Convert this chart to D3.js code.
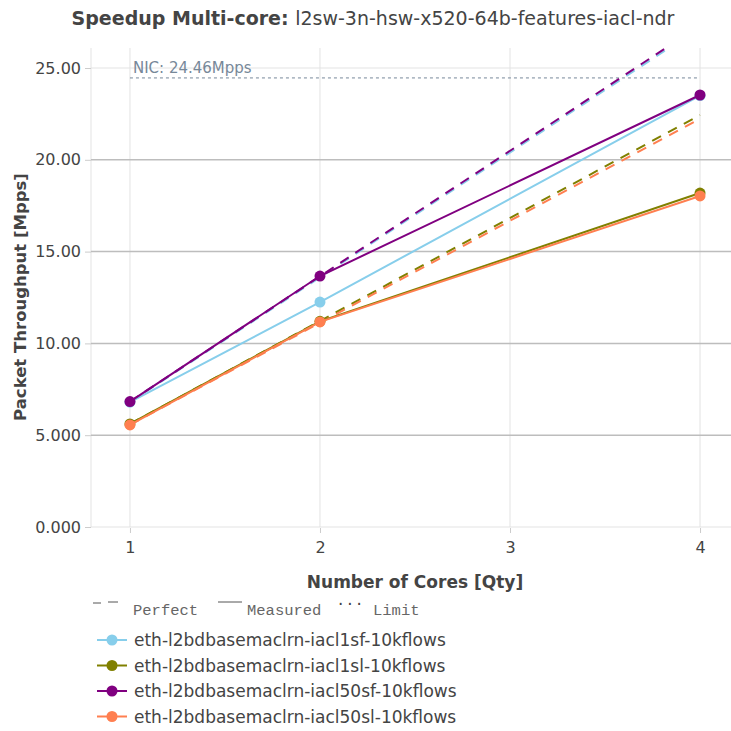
<!DOCTYPE html>
<html><head><meta charset="utf-8">
<script src="https://cdn.jsdelivr.net/npm/d3@7"></script>
<style>body{margin:0;background:#fff;}svg{display:block;font-family:"DejaVu Sans",sans-serif;}</style>
</head><body><svg id="c" width="731" height="731"></svg>
<script>
const cores = [1, 2, 4];
const seriesNames = ["eth-l2bdbasemaclrn-iacl1sf-10kflows","eth-l2bdbasemaclrn-iacl1sl-10kflows","eth-l2bdbasemaclrn-iacl50sf-10kflows","eth-l2bdbasemaclrn-iacl50sl-10kflows"];
const seriesColors = ["#87CEEB","#808000","#800080","#FF7F50"];
const iacl1sf = [6.80, 12.25, 23.50];
const iacl1sl = [5.61, 11.20, 18.19];
const iacl50sf = [6.83, 13.67, 23.53];
const iacl50sl = [5.56, 11.17, 18.03];
const seriesValues = [iacl1sf, iacl1sl, iacl50sf, iacl50sl];
const nicLimit = 24.46;
const yTicks = [0, 5, 10, 15, 20, 25];
const yTickLabels = ["0.000","5.000","10.00","15.00","20.00","25.00"];
const xTicks = [1, 2, 3, 4];

const svg = d3.select("#c");
const L = 91, R = 731, T = 48, B = 527;
const x = d3.scaleLinear().domain([0.795, 4.163]).range([L, R]);
const y = d3.scaleLinear().domain([0, 26.09]).range([B, T]);

const defs = svg.append("defs");
defs.append("clipPath").attr("id","clip").append("rect").attr("x",L).attr("y",T).attr("width",R-L).attr("height",B-T);

// grid
svg.append("g").selectAll("line").data(xTicks).join("line")
  .attr("x1",d=>x(d)).attr("x2",d=>x(d)).attr("y1",T).attr("y2",B)
  .attr("stroke","#e3e3e3").attr("stroke-width",1);
svg.append("line").attr("x1",L).attr("x2",L).attr("y1",T).attr("y2",B).attr("stroke","#e3e3e3");
svg.append("g").selectAll("line").data(yTicks).join("line")
  .attr("x1",L).attr("x2",R).attr("y1",d=>y(d)).attr("y2",d=>y(d))
  .attr("stroke",d=>(d===0||d===25)?"#e3e3e3":"#bdbdbd").attr("stroke-width",d=>(d===0||d===25)?1:1.5);

// axes
const ya = svg.append("g").attr("transform",`translate(${L},0)`)
  .call(d3.axisLeft(y).tickValues(yTicks).tickFormat((d,i)=>yTickLabels[i]).tickSize(6).tickPadding(4));
ya.select(".domain").remove();
ya.selectAll("line").attr("stroke","#ccc");
ya.selectAll("text").attr("font-size",16).attr("fill","#444").attr("font-family","DejaVu Sans");
const xa = svg.append("g").attr("transform",`translate(0,${B+1})`)
  .call(d3.axisBottom(x).tickValues(xTicks).tickFormat(d3.format("d")).tickSize(5).tickPadding(9));
xa.select(".domain").remove();
xa.selectAll("line").attr("stroke","#ccc");
xa.selectAll("text").attr("font-size",16).attr("fill","#444").attr("font-family","DejaVu Sans");

// titles
const t = svg.append("text").attr("x",373).attr("y",25).attr("text-anchor","middle").attr("font-size",19).attr("fill","#444");
t.append("tspan").attr("font-weight","bold").text("Speedup Multi-core: ");
t.append("tspan").text("l2sw-3n-hsw-x520-64b-features-iacl-ndr");
svg.append("text").attr("x",415).attr("y",588).attr("text-anchor","middle").attr("font-size",17).attr("font-weight","bold").attr("fill","#444").text("Number of Cores [Qty]");
svg.append("text").attr("transform","translate(26,297) rotate(-90)").attr("text-anchor","middle").attr("font-size",16.5).attr("font-weight","bold").attr("fill","#444").text("Packet Throughput [Mpps]");

// NIC limit
svg.append("line").attr("x1",x(1)).attr("x2",x(4)).attr("y1",y(nicLimit)).attr("y2",y(nicLimit))
  .attr("stroke","#778899").attr("stroke-width",1).attr("stroke-dasharray","3,3");
svg.append("text").attr("x",x(1)+3).attr("y",y(nicLimit)-5).attr("font-size",15).attr("fill","#778899").text("NIC: "+nicLimit.toFixed(2)+"Mpps");

const plot = svg.append("g").attr("clip-path","url(#clip)");
const line = d3.line().x(d=>x(d[0])).y(d=>y(d[1]));
seriesValues.forEach((vals,i)=>{
  const perfect = cores.map(c=>[c, vals[0]*c]);
  plot.append("path").attr("d",line(perfect)).attr("fill","none").attr("stroke",seriesColors[i])
    .attr("stroke-width",2).attr("stroke-dasharray","10,8");
});
seriesValues.forEach((vals,i)=>{
  const pts = cores.map((c,j)=>[c, vals[j]]);
  svg.append("path").attr("d",line(pts)).attr("fill","none").attr("stroke",seriesColors[i]).attr("stroke-width",2);
  svg.append("g").selectAll("circle").data(pts).join("circle")
    .attr("cx",d=>x(d[0])).attr("cy",d=>y(d[1])).attr("r",5.5).attr("fill",seriesColors[i]);
});

// legend
const mono = "Liberation Mono, DejaVu Sans Mono, monospace";
const lg = svg.append("g");
lg.append("line").attr("x1",93).attr("x2",101).attr("y1",603).attr("y2",603).attr("stroke","#555").attr("stroke-width",1);
lg.append("line").attr("x1",108).attr("x2",118).attr("y1",602).attr("y2",602).attr("stroke","#555").attr("stroke-width",1);
lg.append("text").attr("x",133).attr("y",615).attr("font-family",mono).attr("font-size",15.5).attr("fill","#666").text("Perfect");
lg.append("line").attr("x1",218).attr("x2",242).attr("y1",602).attr("y2",602).attr("stroke","#555").attr("stroke-width",1);
lg.append("text").attr("x",247).attr("y",615).attr("font-family",mono).attr("font-size",15.5).attr("fill","#666").text("Measured");
lg.append("text").attr("x",336).attr("y",605).attr("font-family",mono).attr("font-size",15.5).attr("fill","#444").text("...");
lg.append("text").attr("x",373).attr("y",615).attr("font-family",mono).attr("font-size",15.5).attr("fill","#666").text("Limit");
seriesNames.forEach((n,i)=>{
  const yy = 640 + i*25.5;
  lg.append("line").attr("x1",97).attr("x2",127).attr("y1",yy).attr("y2",yy).attr("stroke",seriesColors[i]).attr("stroke-width",2);
  lg.append("circle").attr("cx",112).attr("cy",yy).attr("r",5.5).attr("fill",seriesColors[i]);
  lg.append("text").attr("x",134).attr("y",yy+6).attr("font-size",17).attr("fill","#444").text(n);
});
</script></body></html>
